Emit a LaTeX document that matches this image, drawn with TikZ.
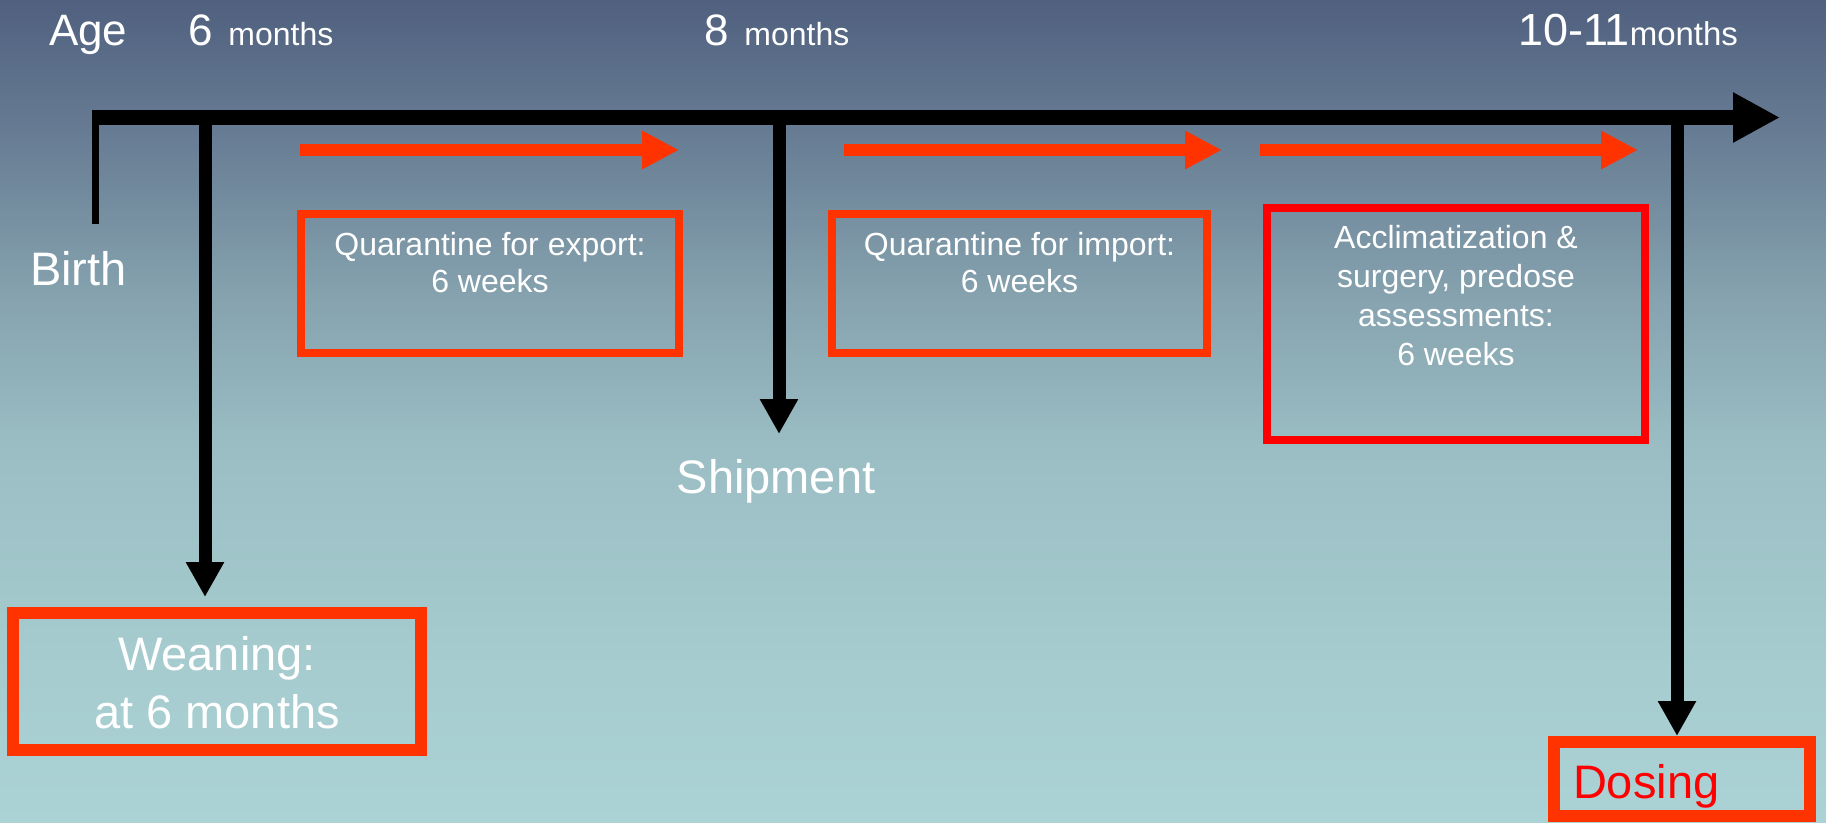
\documentclass[tikz,border=0pt]{standalone}
\usepackage{fontspec}
\setmainfont{Liberation Sans}
\usetikzlibrary{arrows.meta}

% palette
\definecolor{bgtop}{RGB}{80,96,127}
\definecolor{bgA}{RGB}{106,128,150}
\definecolor{bgB}{RGB}{134,163,175}
\definecolor{bgC}{RGB}{155,190,196}
\definecolor{bgD}{RGB}{165,203,206}
\definecolor{bgbot}{RGB}{171,210,213}
\definecolor{orangered}{RGB}{255,51,0}
\definecolor{purered}{RGB}{255,0,0}

% slide background, dark slate at the top fading to pale teal
\pgfdeclareverticalshading{slidebg}{100bp}{
  color(0bp)=(bgbot); color(25bp)=(bgbot); color(35.5bp)=(bgD);
  color(47.6bp)=(bgC); color(56.75bp)=(bgB); color(65.9bp)=(bgA);
  color(75bp)=(bgtop); color(100bp)=(bgtop)}

\newcommand\setfs[2]{\fontsize{#1}{#2}\selectfont}
\newcommand\boxlines[1]{\begin{tabular}[t]{@{}c@{}}#1\end{tabular}}

\begin{document}
\begin{tikzpicture}[x=1pt,y=-1pt,
  lbl/.style={text=white,inner sep=0pt,outer sep=0pt},
  phase/.style={draw=orangered,line width=8pt,minimum width=#1,inner sep=0pt},
  milestone/.style={draw=orangered,line width=12pt,inner sep=0pt},
  axisline/.style={line width=15pt,black,-{Triangle[length=47pt,width=47pt]}},
  dropline/.style={line width=13pt,black,-{Triangle[length=35pt,width=36pt]}},
  spanarrow/.style={line width=12pt,orangered,-{Triangle[length=37pt,width=36pt]}}
]
\shade[shading=slidebg] (0,0) rectangle (1826,822);
\useasboundingbox (0,0) rectangle (1826,822);

% ages along the top
\node[lbl,anchor=base west] (age) at (49,45) {\setfs{44}{50}Age};
\node[lbl,anchor=base west] (age6) at (188,45) {\setfs{44}{50}6\hspace{16pt}\setfs{32}{38}months};
\node[lbl,anchor=base west] (age8) at (704,45) {\setfs{44}{50}8\hspace{16pt}\setfs{32}{38}months};
\node[lbl,anchor=base west] (age10) at (1518,45) {\setfs{45}{50}10-11\setfs{33}{38}months};

% time axis
\coordinate (tStart) at (92,117.5);
\coordinate (tEnd) at (1780,117.5);
\coordinate (birthTop) at (95.5,110);
\coordinate (birthEnd) at (95.5,224);
\coordinate (w6) at (205,117.5);
\coordinate (m8) at (779,117.5);
\coordinate (m10) at (1677,117.5);

% boxes
\node[phase=378pt,minimum height=139pt] (qexp) at (490,283.5) {};
\node[phase=375pt,minimum height=139pt] (qimp) at (1019.5,283.5) {};
\node[phase=378pt,minimum height=232pt,draw=purered] (accl) at (1456,324) {};
\node[milestone,minimum width=408pt,minimum height=137pt] (wean) at (217,681.5) {};
\node[milestone,minimum width=256pt,minimum height=74pt] (dose) at (1682,779) {};

% box texts
\node[lbl,anchor=base] (qexpT) at (490,255)
  {\setfs{32}{37}\boxlines{Quarantine for export:\\6 weeks}};
\node[lbl,anchor=base] (qimpT) at (1019.5,255)
  {\setfs{32}{37}\boxlines{Quarantine for import:\\6 weeks}};
\node[lbl,anchor=base] (acclT) at (1456,248)
  {\setfs{32}{39}\boxlines{Acclimatization \&\\surgery, predose\\assessments:\\6 weeks}};
\node[lbl,anchor=base] (weanT) at (217,670)
  {\setfs{47}{58}\boxlines{Weaning:\\at 6 months}};
\node[lbl,anchor=base west,text=purered] (doseT) at (1573,798) {\setfs{47}{52}Dosing};

% free labels
\node[lbl,anchor=base west] (birth) at (30,285) {\setfs{47}{52}Birth};
\node[lbl,anchor=base] (ship) at (776,493) {\setfs{47}{54}Shipment};

% drop lines to the events
\draw[dropline] (w6) -- ([yshift=10pt]w6 |- wean.north);
\draw[dropline] (m8) -- (m8 |- 0,434);
\draw[dropline] (m10) -- (m10 |- dose.north);
\draw[line width=7pt,black] (birthTop) -- (birthEnd);
\draw[axisline] (tStart) -- (tEnd);

% phase spans
\coordinate (s1a) at (300,150); \coordinate (s1b) at (679,150);
\coordinate (s2a) at (844,150); \coordinate (s2b) at (1222,150);
\coordinate (s3a) at (1260,150); \coordinate (s3b) at (1638,150);
\draw[spanarrow] (s1a) -- (s1b);
\draw[spanarrow] (s2a) -- (s2b);
\draw[spanarrow] (s3a) -- (s3b);
\end{tikzpicture}
\end{document}
